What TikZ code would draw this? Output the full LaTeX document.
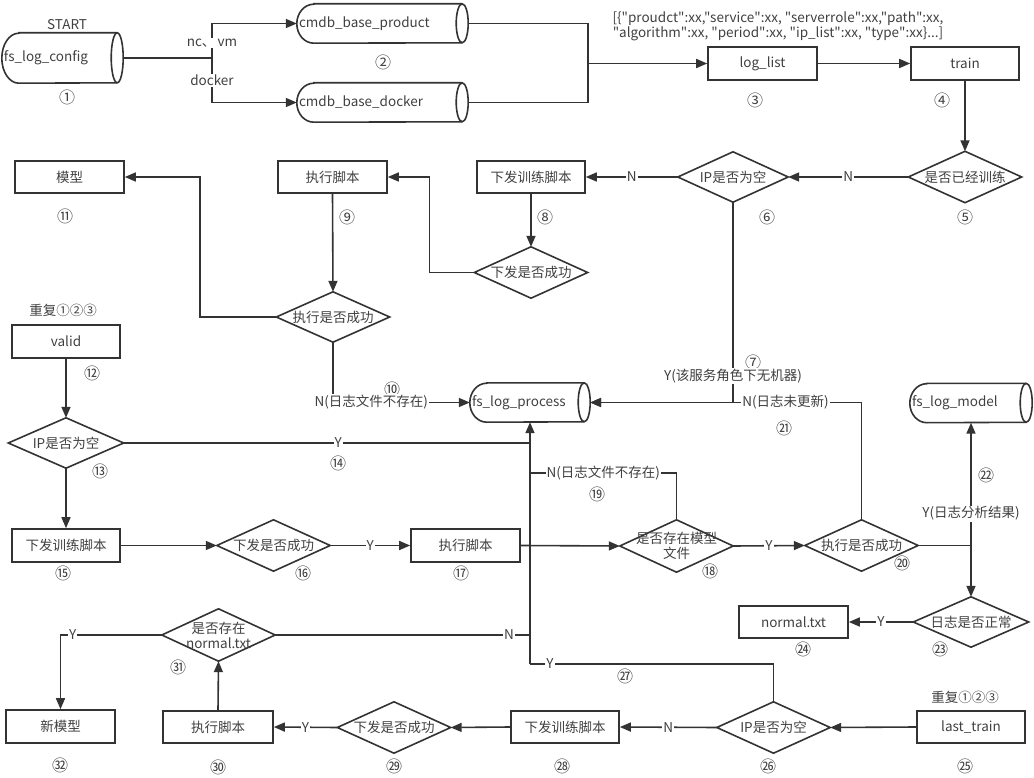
\documentclass[tikz,border=0pt]{standalone}
\usepackage{fontspec}
\setmainfont{Noto Sans CJK SC}
\newfontfamily\jsonfont{Noto Sans CJK SC}[Ligatures=TeXOff]
\usetikzlibrary{arrows.meta}
\pgfdeclarelayer{bg}
\pgfsetlayers{bg,main}
\definecolor{lc}{HTML}{333333}
\definecolor{tc}{HTML}{404040}
\newcommand{\cylout}[2]{%
  \draw[outl] ([xshift=17pt]#1.north west) -- ([xshift=-6pt]#1.north east)
    arc[start angle=90,end angle=-90,x radius=6pt,y radius=#2]
    -- ([xshift=17pt]#1.south west)
    arc[start angle=270,end angle=90,x radius=17pt,y radius=#2] -- cycle;
  \draw[outl] ([xshift=-6pt]#1.north east) arc[start angle=90,end angle=270,x radius=6pt,y radius=#2];}
\begin{document}
\begin{tikzpicture}[x=1pt,y=-1pt,
  every node/.style={text=tc},
  font=\fontsize{13.5}{15}\selectfont,
  box/.style={draw=lc, line width=1.6pt, minimum width=108pt, minimum height=32pt, inner sep=0pt},
  dia/.style={minimum width=113pt, minimum height=51pt, inner sep=0pt, align=center},
  cyl/.style={inner xsep=2pt, inner ysep=0pt, align=left, minimum height=39pt},
  num/.style={font=\fontsize{16}{16}\selectfont, inner sep=0pt},
  ln/.style={draw=lc, line width=1.6pt},
  conn/.style={ln, -{Triangle[length=11pt,width=9pt]}},
  lab/.style={fill=white, inner sep=1pt},
  outl/.style={draw=lc, line width=1.6pt}]
\useasboundingbox (0,0) rectangle (1034,778);

% ---- nodes ----
\node[cyl, minimum width=121pt, minimum height=50pt, text width=117pt] (cfg) at (62.5,58) {fs\_log\_config};
\node (start) at (67,25) {START};
\node[num] (c1) at (67,97) {①};
\node[cyl, minimum width=171pt, text width=167pt] (prod) at (382.5,23.5) {cmdb\_base\_product};
\node[cyl, minimum width=171pt, text width=167pt] (dock) at (382.5,102.5) {cmdb\_base\_docker};
\node[num] (c2) at (383,62) {②};
\node[box, minimum width=109pt, minimum height=33pt] (loglist) at (762.5,63.5) {log\_list};
\node[box, minimum height=33pt] (train) at (965,63.5) {train};
\node[font=\jsonfont\fontsize{13.5}{13}\selectfont, align=center, inner sep=0pt] (json) at (778,26.5)
  {[\{"proudct":xx,"service":xx, "serverrole":xx,"path":xx,\\ "algorithm":xx, "period":xx, "ip\_list":xx, "type":xx\}...]};
\node[num] (c3) at (755,100) {③};
\node[num] (c4) at (942,100) {④};
\node[dia] (d5) at (965,177) {是否已经训练};
\node[num] (c5) at (965,217) {⑤};
\node[dia, minimum width=110pt, minimum height=50pt] (d6) at (733,177) {IP是否为空};
\node[num] (c6) at (767,217) {⑥};
\node[box] (b8) at (531,177) {下发训练脚本};
\node[num] (c8) at (545,217) {⑧};
\node[dia] (d8) at (531,272.5) {下发是否成功};
\node[box, minimum width=109pt] (b9) at (332.5,177) {执行脚本};
\node[num] (c9) at (347,217) {⑨};
\node[dia, minimum height=50pt] (d9) at (333,317) {执行是否成功};
\node[box, minimum width=109pt] (mx) at (69.5,177) {模型};
\node[num] (c11) at (65,216) {⑪};
\node[cyl, minimum width=120pt, text width=116pt] (proc) at (530,402.5) {fs\_log\_process};
\node[cyl, minimum width=122pt, text width=118pt] (model) at (971,403) {fs\_log\_model};
\node (rep1) at (63,310) {重复①②③};
\node[box, minimum height=33pt] (valid) at (66,341.5) {valid};
\node[num] (c12) at (92,373) {⑫};
\node[dia, minimum width=115pt, minimum height=50pt] (d13) at (66,443) {IP是否为空};
\node[num] (c13) at (100,471) {⑬};
\node[num] (c14) at (338,463) {⑭};
\node[box, minimum height=33pt] (b15) at (66,545.5) {下发训练脚本};
\node[num] (c15) at (63,573) {⑮};
\node[dia] (d16) at (273.5,545.5) {下发是否成功};
\node[num] (c16) at (303,573) {⑯};
\node[box, minimum width=109pt, minimum height=33pt] (b17) at (465.5,545.5) {执行脚本};
\node[num] (c17) at (461,573) {⑰};
\node[dia, minimum height=52pt] (d18) at (676.5,546) {是否存在模型\\文件};
\node[num] (c18) at (710,571) {⑱};
\node[num] (c19) at (597,494) {⑲};
\node[dia] (d20) at (861.5,545.5) {执行是否成功};
\node[num] (c20) at (902,563) {⑳};
\node[num] (c21) at (784,428) {㉑};
\node[num] (c22) at (986,475) {㉒};
\node[dia, minimum width=115pt, minimum height=50pt] (d23) at (971,622) {日志是否正常};
\node[num] (c23) at (940,649) {㉓};
\node[box, minimum width=109pt] (b24) at (793.5,622) {normal.txt};
\node[num] (c24) at (803,649) {㉔};
\node (rep2) at (965,697) {重复①②③};
\node[box] (b25) at (971,727) {last\_train};
\node[num] (c25) at (965,766) {㉕};
\node[dia] (d26) at (773.5,727.5) {IP是否为空};
\node[num] (c26) at (768,766) {㉖};
\node[num] (c27) at (625,676) {㉗};
\node[box] (b28) at (565,727) {下发训练脚本};
\node[num] (c28) at (562,766) {㉘};
\node[dia] (d29) at (394,727.5) {下发是否成功};
\node[num] (c29) at (394,766) {㉙};
\node[box, minimum width=110pt] (b30) at (218,727) {执行脚本};
\node[num] (c30) at (218,767) {㉚};
\node[dia, minimum height=52pt] (d31) at (218.5,635) {是否存在\\normal.txt};
\node[num] (c31) at (178,667) {㉛};
\node[box, minimum width=109pt, minimum height=33pt] (b32) at (60.5,726.5) {新模型};
\node[num] (c32) at (60,765) {㉜};
\node[num] (c10) at (392,389) {⑩};
\node[num] (c7) at (753,362) {⑦};

% ---- outlines ----
\begin{pgfonlayer}{bg}
\foreach \n in {d5,d6,d8,d9,d13,d16,d18,d20,d23,d26,d29,d31}
  \draw[outl] (\n.north) -- (\n.east) -- (\n.south) -- (\n.west) -- cycle;
\cylout{cfg}{25pt}
\cylout{prod}{19.5pt}
\cylout{dock}{19.5pt}
\cylout{proc}{19.5pt}
\cylout{model}{19.5pt}
\end{pgfonlayer}

% ---- connectors ----
\coordinate (br) at (212,58);
\draw[ln] (cfg.east) -- (br);
\draw[conn] (br) |- node[lab,pos=0.22]{nc、\,vm} (prod.west);
\draw[conn] (br) |- node[lab,pos=0.25]{docker} (dock.west);
\coordinate (mg) at (588,63.5);
\draw[ln] (prod.east) -| (mg);
\draw[ln] (dock.east) -| (mg);
\draw[conn] (mg) -- (loglist.west);
\draw[conn] (loglist.east) -- (train.west);
\draw[conn] (train.south) -- (d5.north);
\draw[conn] (d5.west) -- node[lab]{N} (d6.east);
\draw[conn] (d6.west) -- node[lab]{N} (b8.east);
\draw[conn] (b8.south) -- (d8.north);
\draw[conn] (d8.west) -- ++(-45,0) |- (b9.east);
\draw[conn] (b9.south) -- (d9.north);
\draw[conn] (d9.west) -- ++(-76.5,0) |- (mx.east);
\draw[conn] (d9.south) |- node[lab,pos=0.64]{N(日志文件不存在)} (proc.west);
\draw[conn] (d6.south) |- node[lab,pos=0.435]{Y(该服务角色下无机器)} (proc.east);
\draw[conn] (d20.north) |- node[lab,pos=0.64]{N(日志未更新)} (proc.east);

\coordinate (j13) at (530,443);
\coordinate (j19) at (530,473);
\coordinate (j31) at (530,635);
\coordinate (j27) at (530,664);
\draw[conn] (j27) -- (proc.south);
\draw[ln] (d13.east) -- node[lab,pos=0.528]{Y} (j13);
\draw[ln] (d18.north) |- node[lab,pos=0.75]{N(日志文件不存在)} (j19);
\draw[ln] (d31.east) -- node[lab,pos=0.918]{N} (j31);
\draw[ln] (d26.north) |- node[lab,pos=0.959]{Y} (j27);

\draw[conn] (valid.south) -- (d13.north);
\draw[conn] (d13.south) -- (b15.north);
\draw[conn] (b15.east) -- (d16.west);
\draw[conn] (d16.east) -- node[lab]{Y} (b17.west);
\draw[conn] (b17.east) -- (d18.west);
\draw[conn] (d18.east) -- node[lab]{Y} (d20.west);
\draw[conn] (d20.east) -| node[lab,pos=0.63]{Y(日志分析结果)} (model.south);
\draw[conn] (d20.east) -| (d23.north);
\draw[conn] (d23.west) -- node[lab]{Y} (b24.east);
\draw[conn] (b25.west) -- (d26.east);
\draw[conn] (d26.west) -- node[lab]{N} (b28.east);
\draw[conn] (b28.west) -- (d29.east);
\draw[conn] (d29.west) -- node[lab]{Y} (b30.east);
\draw[conn] (b30.north) -- (d31.south);
\draw[conn] (d31.west) -| node[lab,pos=0.44]{Y} (b32.north);
\end{tikzpicture}
\end{document}
